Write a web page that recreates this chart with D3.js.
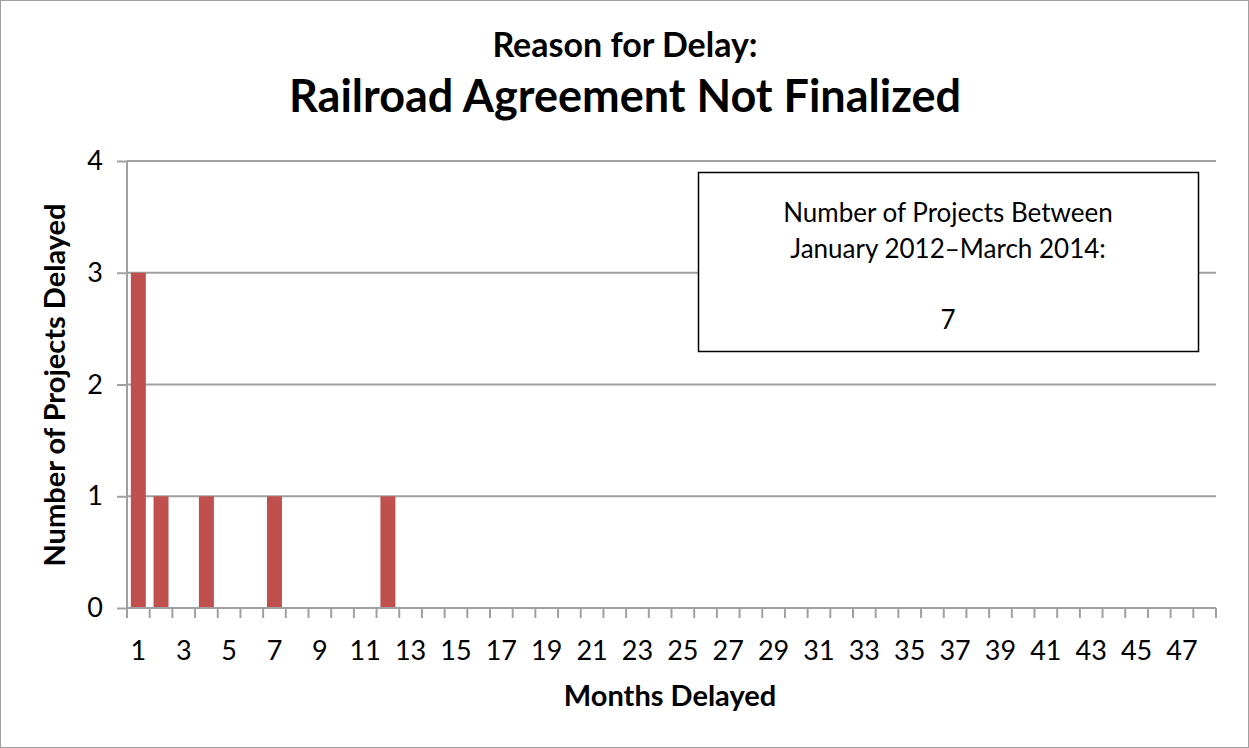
<!DOCTYPE html>
<html>
<head>
<meta charset="utf-8">
<script src="https://cdn.jsdelivr.net/npm/d3@7"></script>
<style>
	body { margin: 0; background: #fff; }
	svg text { font-family: Lato, "Open Sans", sans-serif; fill: #000; }
</style>
</head>
<body>
<div id="chart"></div>
<script>
// months delayed 1..48, number of projects for each
var months = d3.range(1, 49);
var counts = [3, 1, 0, 1, 0, 0, 1, 0, 0, 0, 0, 1,
              0, 0, 0, 0, 0, 0, 0, 0, 0, 0, 0, 0,
              0, 0, 0, 0, 0, 0, 0, 0, 0, 0, 0, 0,
              0, 0, 0, 0, 0, 0, 0, 0, 0, 0, 0, 0];
var yTicks = [0, 1, 2, 3, 4];
var titleTop = "Reason for Delay:";
var titleMain = "Railroad Agreement Not Finalized";
var boxLines = ["Number of Projects Between", "January 2012\u2013March 2014:", "", "7"];

var W = 1249, H = 748;
var plotL = 127, plotR = 1216, plotT = 161, plotB = 608;

var svg = d3.select("#chart").append("svg")
	.attr("width", W)
	.attr("height", H);

// outer frame
svg.append("rect")
	.attr("x", 0.5).attr("y", 0.5)
	.attr("width", W - 1).attr("height", H - 1)
	.attr("fill", "#fff")
	.attr("stroke", "#a0a0a0");

var x = d3.scaleBand()
	.domain(months)
	.range([plotL, plotR])
	.paddingInner(0.34)
	.paddingOuter(0.17);

var y = d3.scaleLinear()
	.domain([0, 4])
	.range([plotB, plotT]);

// gridlines
svg.append("g").selectAll("line")
	.data(yTicks.filter(function(d) { return d > 0; }))
	.enter().append("line")
	.attr("x1", plotL).attr("x2", plotR)
	.attr("y1", function(d) { return y(d); })
	.attr("y2", function(d) { return y(d); })
	.attr("stroke", "#a0a0a0")
	.attr("stroke-width", 2);

// y axis
var yAxis = svg.append("g")
	.attr("transform", "translate(" + plotL + ",0)")
	.call(d3.axisLeft(y).tickValues(yTicks).tickSize(10).tickPadding(14).tickFormat(d3.format("d")));
yAxis.selectAll("line").attr("stroke", "#a0a0a0").attr("stroke-width", 2);
yAxis.select(".domain").attr("stroke", "#a0a0a0").attr("stroke-width", 2).attr("d", "M0," + plotT + "V" + plotB);
yAxis.selectAll("text").style("font-size", "27px").style("font-family", "Lato, sans-serif").attr("fill", "#000");

// bars
svg.append("g").selectAll("rect")
	.data(months)
	.enter().append("rect")
	.attr("x", function(d) { return x(d); })
	.attr("width", x.bandwidth())
	.attr("y", function(d, i) { return y(counts[i]); })
	.attr("height", function(d, i) { return plotB - y(counts[i]); })
	.attr("fill", "#c0504d");

// x axis: ticks between categories
var step = x.step();
var xAxis = svg.append("g").attr("class", "xaxis");
xAxis.append("line")
	.attr("x1", plotL).attr("x2", plotR)
	.attr("y1", plotB).attr("y2", plotB)
	.attr("stroke", "#a0a0a0").attr("stroke-width", 2);
xAxis.selectAll("line.tick")
	.data(d3.range(0, months.length + 1))
	.enter().append("line")
	.attr("class", "tick")
	.attr("x1", function(i) { return plotL + i * step; })
	.attr("x2", function(i) { return plotL + i * step; })
	.attr("y1", plotB).attr("y2", plotB + 10)
	.attr("stroke", "#a0a0a0").attr("stroke-width", 2);
xAxis.selectAll("text")
	.data(months.filter(function(d) { return d % 2 === 1; }))
	.enter().append("text")
	.attr("x", function(d) { return x(d) + x.bandwidth() / 2; })
	.attr("y", 660)
	.attr("text-anchor", "middle")
	.style("font-size", "27px")
	.text(function(d) { return d; });

// axis titles
svg.append("text")
	.attr("x", 670).attr("y", 706)
	.attr("text-anchor", "middle")
	.style("font-size", "29px").style("font-weight", "bold")
	.text("Months Delayed");

svg.append("text")
	.attr("transform", "translate(65,385) rotate(-90)")
	.attr("text-anchor", "middle")
	.style("font-size", "29px").style("font-weight", "bold")
	.text("Number of Projects Delayed");

// titles
svg.append("text")
	.attr("x", 625).attr("y", 57)
	.attr("text-anchor", "middle")
	.style("font-size", "34px").style("font-weight", "bold")
	.text(titleTop);

svg.append("text")
	.attr("x", 625).attr("y", 112)
	.attr("text-anchor", "middle")
	.style("font-size", "45px").style("font-weight", "bold")
	.text(titleMain);

// annotation box
svg.append("rect")
	.attr("x", 698.5).attr("y", 172.5)
	.attr("width", 500).attr("height", 179)
	.attr("fill", "#fff")
	.attr("stroke", "#000").attr("stroke-width", 1.5);

svg.append("g").selectAll("text")
	.data(boxLines)
	.enter().append("text")
	.attr("x", 948)
	.attr("y", function(d, i) { return 222 + i * 35.5; })
	.attr("text-anchor", "middle")
	.style("font-size", "26px")
	.text(function(d) { return d; });
</script>
</body>
</html>
